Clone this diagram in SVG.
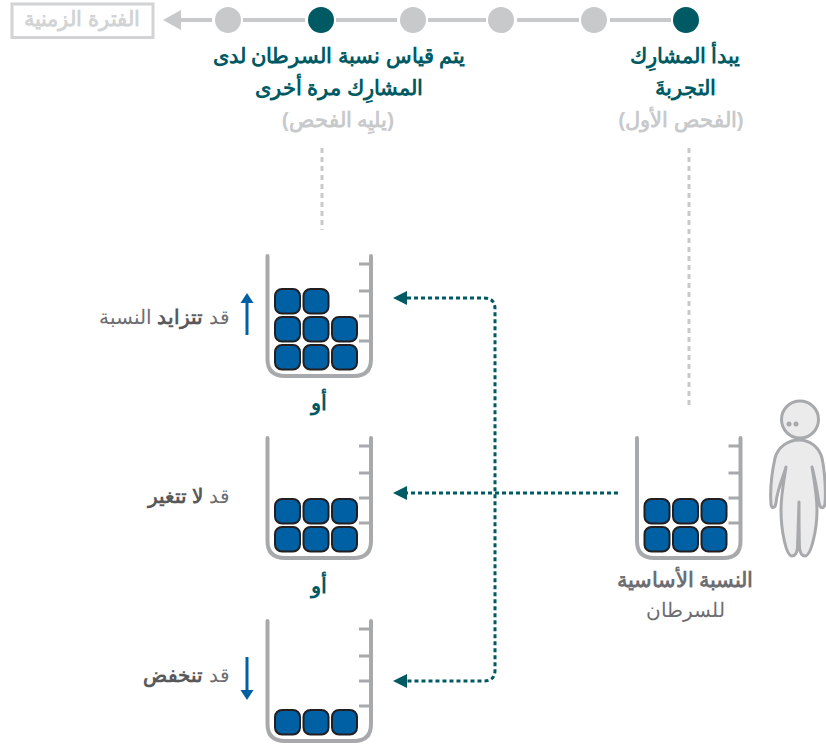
<svg xmlns="http://www.w3.org/2000/svg" width="826" height="746" viewBox="0 0 826 746">
<style>
text{font-family:"Liberation Sans",Arial,sans-serif;direction:rtl}
.m{text-anchor:middle}
.s{text-anchor:start}
.h{font-size:20.700px;font-weight:bold;fill:#005a64}
.g{font-size:20.700px;font-weight:bold;fill:#c8c9cb}
.d{font-size:20px;fill:#6d6e71}
.b{font-weight:bold;fill:#58595b}
.tl{stroke:#c8c9cb;stroke-width:4;fill:none}
.on{fill:#005a64}
.off{fill:#c8c9cb}
.beaker{fill:none;stroke:#a7a9ac;stroke-width:4;stroke-linecap:round}
.tick{fill:none;stroke:#a7a9ac;stroke-width:3}
.blk{fill:#0060a4;stroke:#231f20;stroke-width:2}
.dot{fill:none;stroke:#005a64;stroke-width:3;stroke-dasharray:4 3}
.vd{fill:none;stroke:#c8c9cb;stroke-width:3;stroke-dasharray:5 4}
.tip{fill:#005a64}
.ar{stroke:#0060a4;stroke-width:3;fill:none}
.arh{fill:#0060a4}
</style>
<defs>
<g id="bk">
<path class="beaker" d="M267.5 256V359Q267.500 376 285 376H354Q371 376 371 359V256"/>
<path class="tick" d="M359 264H371M359 291H371M359 316H371M359 341H371"/>
</g>
<rect id="c" class="blk" width="25" height="24.500" rx="7"/>
</defs>

<g id="timeline">
<rect x="12" y="4" width="141" height="33.500" fill="#fff" stroke="#d1d3d4" stroke-width="3"/>
<text class="m g" x="82" y="26" style="fill:#d1d3d4">الفترة الزمنية</text>
<path class="tl" d="M180 20H212M243 20H305M336 20H397M428 20H486M517 20H579M610 20H671"/>
<path class="off" d="M163 20L181 10V30Z"/>
<circle class="off" cx="228" cy="20" r="13"/>
<circle class="on" cx="321" cy="20" r="13"/>
<circle class="off" cx="413" cy="20" r="13"/>
<circle class="off" cx="501" cy="20" r="13"/>
<circle class="off" cx="594" cy="20" r="13"/>
<circle class="on" cx="686" cy="20" r="13"/>
</g>

<g id="step-first">
<text class="m h" x="685" y="63">يبدأ المشارِك</text>
<text class="m h" x="685" y="95">التجربةَ</text>
<text class="m g" x="681" y="127">(الفحص الأول)</text>
</g>
<g id="step-second">
<text class="m h" x="339" y="63">يتم قياس نسبة السرطان لدى</text>
<text class="m h" x="339" y="95">المشارِك مرة أخرى</text>
<text class="m g" x="338" y="127">(يليِه الفحص)</text>
</g>

<g id="connectors">
<path class="vd" d="M322 148V230"/>
<path class="vd" d="M689 148V408"/>
<path class="dot" d="M407 298H484Q495 298 495 309V670Q495 681 484 681H407"/>
<path class="dot" d="M618 493H407"/>
<path class="tip" d="M393 298L407 291V305Z"/>
<path class="tip" d="M393 493L407 486V500Z"/>
<path class="tip" d="M393 681L407 674V688Z"/>
</g>

<g id="beaker-increase">
<use href="#bk"/>
<use href="#c" x="275" y="289"/><use href="#c" x="303.500" y="289"/>
<use href="#c" x="275" y="317"/><use href="#c" x="303.500" y="317"/><use href="#c" x="332" y="317"/>
<use href="#c" x="275" y="345"/><use href="#c" x="303.500" y="345"/><use href="#c" x="332" y="345"/>
<path class="ar" d="M247 302V335"/><path class="arh" d="M247 293L253.500 303H240.500Z"/>
<text class="s d" x="230" y="324">قد <tspan class="b">تتزايد</tspan> النسبة</text>
<text class="m h" x="319" y="410">أو</text>
</g>

<g id="beaker-same">
<use href="#bk" y="182"/>
<use href="#c" x="275" y="499"/><use href="#c" x="303.500" y="499"/><use href="#c" x="332" y="499"/>
<use href="#c" x="275" y="527"/><use href="#c" x="303.500" y="527"/><use href="#c" x="332" y="527"/>
<text class="s d" x="230" y="503">قد <tspan class="b">لا تتغير</tspan></text>
<text class="m h" x="319" y="593">أو</text>
</g>

<g id="beaker-decrease">
<use href="#bk" y="365"/>
<use href="#c" x="275" y="710"/><use href="#c" x="303.500" y="710"/><use href="#c" x="332" y="710"/>
<path class="ar" d="M247 657V691"/><path class="arh" d="M247 700L253.500 690H240.500Z"/>
<text class="s d" x="230" y="682">قد <tspan class="b">تنخفض</tspan></text>
</g>

<g id="beaker-baseline">
<use href="#bk" x="369.500" y="182"/>
<use href="#c" x="644.500" y="499"/><use href="#c" x="673" y="499"/><use href="#c" x="701.500" y="499"/>
<use href="#c" x="644.500" y="527"/><use href="#c" x="673" y="527"/><use href="#c" x="701.500" y="527"/>
<text class="m" x="685" y="587" style="font-size:20.500px;font-weight:bold;fill:#6d6e71">النسبة الأساسية</text>
<text class="m d" x="685" y="617">للسرطان</text>
</g>

<g id="person">
<path d="M799 440C810 440 819 447 822 458C825 472 826 492 825 504C824 509 820 509 819 503C817 490 815 478 812 467C814 480 817 495 817 510C817 530 811 556 805 556C801 556 800 552 799.500 548C799 535 799 515 799 502C798.500 515 798 535 797.500 548C797 552 796 556 792 556C786 556 781 530 781 510C781 495 784 480 786 467C783 478 777 490 776 503C775 509 771 509 771 504C770 492 772 472 775 458C778 447 788 440 799 440Z" fill="#ebebec" stroke="#a7a9ac" stroke-width="3" stroke-linejoin="round"/>
<circle cx="800" cy="419.500" r="18.500" fill="#ebebec" stroke="#a7a9ac" stroke-width="3"/>
<circle cx="789" cy="424" r="2.500" fill="#a7a9ac"/>
<circle cx="796" cy="424" r="2.500" fill="#a7a9ac"/>
</g>
</svg>
